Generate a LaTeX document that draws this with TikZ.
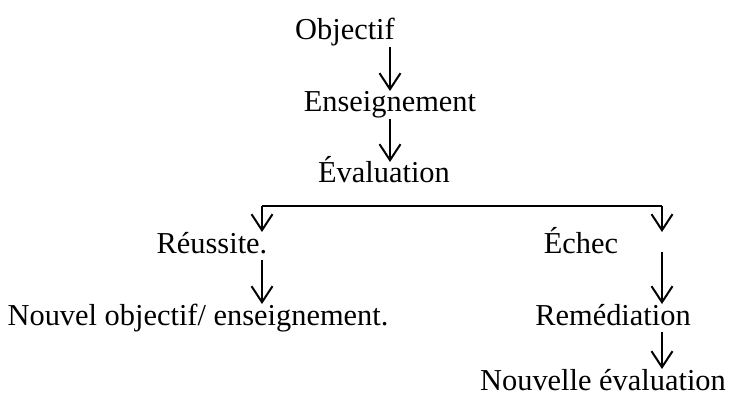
\documentclass[tikz,border=0pt]{standalone}
\usepackage{fontspec}
\setmainfont{Liberation Serif}
\usetikzlibrary{arrows.meta}
\begin{document}
\begin{tikzpicture}[x=1pt,y=-1pt,
  lbl/.style={inner sep=0pt,outer sep=0pt,anchor=base,text height=21pt,text depth=7pt,font=\fontsize{30.4}{36}\selectfont},
  arr/.style={line width=2pt,-{Straight Barb[length=16pt,width=21pt,line width=2pt]}},
  ln/.style={line width=2pt}]
\useasboundingbox (0,0) rectangle (744,398);
\node[lbl] (obj) at (345,40) {Objectif};
\node[lbl] (ens) at (390,112) {Enseignement};
\node[lbl] (eva) at (384,183) {Évaluation};
\node[lbl] (reu) at (212,253) {Réussite.};
\node[lbl] (ech) at (581,253) {Échec};
\node[lbl] (nou) at (198,325) {Nouvel objectif/ enseignement.};
\node[lbl] (rem) at (613,325) {Remédiation};
\node[lbl] (nev) at (603,390) {Nouvelle évaluation};
\coordinate (sl) at (262,206);
\coordinate (sr) at (662,206);
\draw[arr] (obj.south -| ens.center) -- (ens.north);
\draw[arr] (ens.south) -- (eva.north -| ens.center);
\draw[ln] (sl) -- (sr);
\draw[arr] (sl) -- (reu.north -| sl);
\draw[arr] (sr) -- (ech.north -| sr);
\draw[arr] (reu.south -| sl) -- (nou.north -| sl);
\draw[arr] ([yshift=8pt]ech.south -| sr) -- (rem.north -| sr);
\draw[arr] (rem.south -| sr) -- (nev.north -| sr);
\end{tikzpicture}
\end{document}
